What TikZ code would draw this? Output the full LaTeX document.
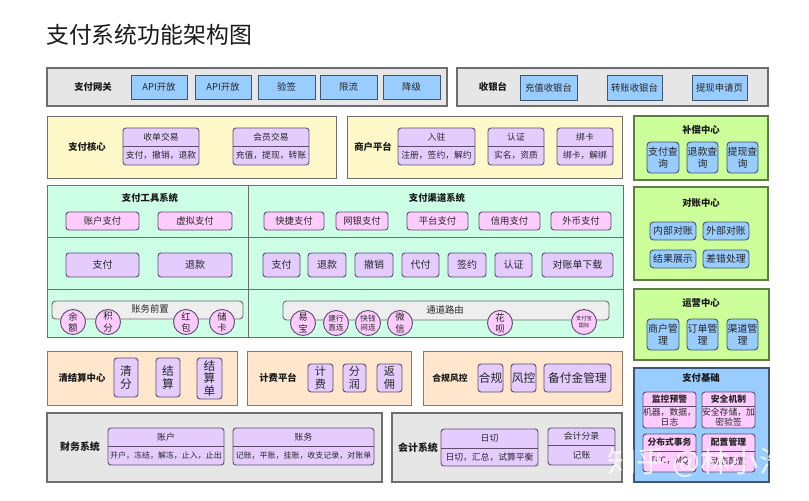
\documentclass[tikz,border=0pt]{standalone}
\usepackage{fontspec}
\setmainfont{Noto Sans CJK SC}

% 颜色
\definecolor{huiDi}{HTML}{E6E6E6}
\definecolor{huiBian}{HTML}{6E6E6E}
\definecolor{tiaoDi}{HTML}{EEEEEE}
\definecolor{lanDi}{HTML}{99CCFF}
\definecolor{lanBian}{HTML}{3D5673}
\definecolor{huangDi}{HTML}{FFF9C9}
\definecolor{ziDi}{HTML}{E5CCFF}
\definecolor{ziBian}{HTML}{5C4D6B}
\definecolor{lvDi}{HTML}{CCFF99}
\definecolor{lvBian}{HTML}{5E7D45}
\definecolor{qingDi}{HTML}{CCFFE6}
\definecolor{fenDi}{HTML}{FFCCFF}
\definecolor{chengDi}{HTML}{FFE6CC}
\definecolor{chengBian}{HTML}{8C7A66}

\tikzset{
  kuangbase/.style={draw, line width=0.8pt, inner sep=0pt, outer sep=0pt, align=center, text=black!85},
  huiqu/.style={kuangbase, fill=huiDi, draw=huiBian, line width=1pt},
  huangqu/.style={kuangbase, fill=huangDi, draw=huiBian},
  lvqu/.style={kuangbase, fill=lvDi, draw=lvBian, line width=1pt},
  qingqu/.style={kuangbase, fill=qingDi, draw=huiBian},
  chengqu/.style={kuangbase, fill=chengDi, draw=chengBian},
  landaqu/.style={kuangbase, fill=lanDi, draw=lanBian, line width=1pt},
  lanxiao/.style={kuangbase, fill=lanDi, draw=lanBian, font=\fontsize{8}{9}\selectfont},
  lanyuan/.style={kuangbase, fill=lanDi, draw=lanBian, rounded corners=3pt, font=\fontsize{8.5}{10}\selectfont},
  zifen/.style={kuangbase, fill=ziDi, draw=ziBian, rounded corners=2.5pt},
  fenkuang/.style={kuangbase, fill=fenDi, draw=ziBian, rounded corners=2.5pt},
  fenxiao/.style={fenkuang, font=\fontsize{8}{9}\selectfont},
  zizhong/.style={zifen, font=\fontsize{8.5}{10}\selectfont},
  zida/.style={zifen, font=\fontsize{10}{11}\selectfont},
  zijiao/.style={zifen, font=\fontsize{9.5}{11}\selectfont},
  zihe/.style={zifen, font=\fontsize{10}{12}\selectfont},
  huitiao/.style={kuangbase, fill=tiaoDi, draw=huiBian, rounded corners=3pt},
  yuan/.style={circle, draw=ziBian, fill=fenDi, line width=0.8pt, minimum size=0.75cm,
    inner sep=0pt, align=center, text=black!85, font=\fontsize{8}{9.5}\selectfont},
  biaoti/.style={inner sep=0pt, text=black!90, font=\bfseries\fontsize{8}{9}\selectfont},
  xiaozi/.style={inner sep=0pt, align=center, text=black!85, font=\fontsize{7.5}{9}\selectfont},
  fenxian/.style={draw=ziBian, line width=0.8pt},
  shuiyin/.style={inner sep=0pt, text=white, opacity=0.8, font=\fontsize{25}{28}\selectfont},
}

% 方框：名字、样式、左上 x y、右下 x y、文字
\newcommand{\kuang}[7]{%
  \node[#2, minimum width={(#5-#3)*0.03cm}, minimum height={(#6-#4)*0.03cm}]
    (#1) at ({(#3+#5)/2},{(#4+#6)/2}) {#7};}

% 上下两格的方框
\newcommand{\liang}[9]{%
  \kuang{#1}{#2}{#3}{#4}{#6}{#7}{}%
  \draw[fenxian] (#3,#5) -- (#6,#5);%
  \node[xiaozi] (#1-s) at ({(#3+#6)/2},{(#4+#5)/2}) {#8};%
  \node[xiaozi] (#1-x) at ({(#3+#6)/2},{(#5+#7)/2}) {#9};}

\begin{document}
\begin{tikzpicture}[x=0.03cm, y=-0.03cm]
    % 背景
    \fill[white] (0,0) rectangle (809,500);
    \useasboundingbox (0,0) rectangle (809,500);

    \node[anchor=west, inner sep=0pt, text=black!90, font=\fontsize{19.5}{22}\selectfont]
      (zongbiaoti) at (46,35) {支付系统功能架构图};

    % 支付网关 / 收银台
    \kuang{zfwg}{huiqu}{47}{68}{447}{106}{}
    \node[biaoti] (zfwg-t) at (93,87) {支付网关};
    \kuang{api1}{lanxiao}{131}{75}{187}{99}{API开放}
    \kuang{api2}{lanxiao}{195}{75}{251}{99}{API开放}
    \kuang{yq}{lanxiao}{258}{75}{315}{99}{验签}
    \kuang{xl}{lanxiao}{320}{75}{377}{99}{限流}
    \kuang{jj}{lanxiao}{383}{75}{440}{99}{降级}

    \kuang{syt}{huiqu}{457}{68}{768}{106}{}
    \node[biaoti] (syt-t) at (493,87) {收银台};
    \kuang{czsyt}{lanxiao}{520}{75}{577}{100}{充值收银台}
    \kuang{zzsyt}{lanxiao}{607}{75}{662}{100}{转账收银台}
    \kuang{txsqy}{lanxiao}{692}{75}{747}{100}{提现申请页}

    % 支付核心 / 商户平台
    \kuang{zfhx}{huangqu}{47}{116}{336}{178}{}
    \node[biaoti] (zfhx-t) at (87,147) {支付核心};
    \liang{sdjy}{zifen}{123}{128}{146}{199}{165}{收单交易}{支付，撤销，退款}
    \liang{hyjy}{zifen}{233}{128}{146}{309}{165}{会员交易}{充值，提现，转账}

    \kuang{shpt}{huangqu}{347}{116}{622}{178}{}
    \node[biaoti] (shpt-t) at (373,147) {商户平台};
    \liang{rz}{zifen}{398}{128}{146}{475}{165}{入驻}{注册，签约，解约}
    \liang{rzh}{zifen}{488}{128}{146}{544}{165}{认证}{实名，资质}
    \liang{bk}{zifen}{557}{128}{146}{613}{165}{绑卡}{绑卡，解绑}

    % 右侧
    \kuang{bczx}{lvqu}{634}{116}{768}{180}{}
    \node[biaoti] (bczx-t) at (701,130) {补偿中心};
    \kuang{zfcx}{lanyuan}{647}{142}{679}{173}{支付查\\询}
    \kuang{tkcx}{lanyuan}{687}{142}{718}{173}{退款查\\询}
    \kuang{txcx}{lanyuan}{727}{142}{758}{173}{提现查\\询}

    \kuang{dzzx}{lvqu}{634}{187}{768}{280}{}
    \node[biaoti] (dzzx-t) at (701,203) {对账中心};
    \kuang{nbdz}{lanyuan}{650}{222}{696}{240}{内部对账}
    \kuang{wbdz}{lanyuan}{703}{222}{749}{240}{外部对账}
    \kuang{jgzs}{lanyuan}{650}{250}{696}{268}{结果展示}
    \kuang{cccl}{lanyuan}{703}{250}{749}{268}{差错处理}

    \kuang{yyzx}{lvqu}{634}{289}{769}{360}{}
    \node[biaoti] (yyzx-t) at (701,303) {运营中心};
    \kuang{shgl}{lanyuan}{647}{319}{679}{350}{商户管\\理}
    \kuang{ddgl}{lanyuan}{687}{319}{718}{350}{订单管\\理}
    \kuang{qdgl}{lanyuan}{727}{319}{758}{350}{渠道管\\理}

    \kuang{zfjc}{landaqu}{634}{368}{769}{482}{}
    \node[biaoti] (zfjc-t) at (701,378) {支付基础};
    \liang{jkyj}{fenkuang}{643}{392}{406}{696}{428}{\textbf{监控预警}}{机器，数据，\\日志}
    \liang{aqjz}{fenkuang}{702}{392}{406}{755}{428}{\textbf{安全机制}}{安全存储，加\\密验签}
    \liang{fbsw}{fenkuang}{643}{434}{451}{696}{472}{\textbf{分布式事务}}{TCC，MQ}
    \liang{pzgl}{fenkuang}{702}{434}{451}{755}{472}{\textbf{配置管理}}{动态配置}

    % 支付工具系统 / 支付渠道系统
    \kuang{zdqy}{qingqu}{47}{185}{623}{337}{}
    \draw[draw=huiBian, line width=0.8pt] (248,185) -- (248,337);
    \draw[draw=huiBian, line width=0.8pt] (47,237) -- (623,237);
    \draw[draw=huiBian, line width=0.8pt] (47,289) -- (623,289);
    \node[biaoti] (gjxt-t) at (150,198) {支付工具系统};
    \node[biaoti] (qdxt-t) at (437,198) {支付渠道系统};

    \kuang{zhzf}{fenxiao}{66}{212}{139}{230}{账户支付}
    \kuang{xnzf}{fenxiao}{158}{212}{232}{230}{虚拟支付}
    \kuang{kjzf}{fenxiao}{264}{212}{324}{230}{快捷支付}
    \kuang{wyzf}{fenxiao}{336}{212}{388}{230}{网银支付}
    \kuang{ptzf}{fenxiao}{407}{212}{468}{230}{平台支付}
    \kuang{xyzf}{fenxiao}{479}{212}{540}{230}{信用支付}
    \kuang{wbzf}{fenxiao}{551}{212}{611}{230}{外币支付}

    \kuang{gjzf}{zizhong}{66}{253}{139}{277}{支付}
    \kuang{gjtk}{zizhong}{158}{253}{232}{277}{退款}
    \kuang{qdzf}{zizhong}{263}{253}{300}{277}{支付}
    \kuang{qdtk}{zizhong}{308}{253}{346}{277}{退款}
    \kuang{qdcx}{zizhong}{355}{253}{393}{277}{撤销}
    \kuang{qddf}{zizhong}{402}{253}{439}{277}{代付}
    \kuang{qdqy}{zizhong}{448}{253}{486}{277}{签约}
    \kuang{qdrz}{zizhong}{495}{253}{532}{277}{认证}
    \kuang{dzdxz}{zizhong}{542}{253}{613}{277}{对账单下载}

    \kuang{zwqz}{huitiao}{52}{301}{243}{319}{}
    \node[xiaozi, font=\fontsize{8}{9}\selectfont] (zwqz-t) at (150,309) {账务前置};
    \node[yuan] (ye) at (73,322) {余\\额};
    \node[yuan] (jf1) at (108,322) {积\\分};
    \node[yuan] (hb) at (186,322) {红\\包};
    \node[yuan] (ck) at (222,322) {储\\卡};

    \kuang{tdly}{huitiao}{283}{301}{609}{320}{}
    \node[xiaozi, font=\fontsize{8}{9}\selectfont] (tdly-t) at (445,310) {通道路由};
    \node[yuan] (yb) at (303,323) {易\\宝};
    \node[yuan, font=\fontsize{6.5}{8}\selectfont] (jhzl) at (336,323) {建行\\直连};
    \node[yuan, font=\fontsize{6.5}{8}\selectfont] (kqjl) at (368,323) {快钱\\间连};
    \node[yuan] (wx) at (400,323) {微\\信};
    \node[yuan] (hbei) at (500,323) {花\\呗};
    \node[yuan, font=\fontsize{4.5}{6}\selectfont] (zfbgj) at (584,322) {支付宝\\国际};

    % 清结算中心 / 计费平台 / 合规风控
    \kuang{qjszx}{chengqu}{47}{351}{237}{405}{}
    \node[biaoti] (qjszx-t) at (82,378) {清结算中心};
    \kuang{qf}{zida}{114}{358}{138}{397}{清\\分}
    \kuang{js}{zida}{156}{358}{180}{397}{结\\算}
    \kuang{jsd}{zida}{197}{358}{222}{399}{结\\算\\单}

    \kuang{jfpt}{chengqu}{247}{351}{411}{405}{}
    \node[biaoti] (jfpt-t) at (278,378) {计费平台};
    \kuang{jf}{zijiao}{308}{364}{333}{392}{计\\费}
    \kuang{fr}{zijiao}{343}{364}{366}{392}{分\\润}
    \kuang{fy}{zijiao}{377}{364}{402}{392}{返\\佣}

    \kuang{hgfk}{chengqu}{423}{351}{622}{405}{}
    \node[biaoti, font=\bfseries\fontsize{7.5}{9}\selectfont] (hgfk-t) at (450,378) {合规风控};
    \kuang{hg}{zihe}{478}{364}{503}{392}{合规}
    \kuang{fk}{zihe}{511}{364}{536}{392}{风控}
    \kuang{bfjgl}{zihe}{544}{364}{611}{392}{备付金管理}

    % 财务系统 / 会计系统
    \kuang{cwxt}{huiqu}{47}{413}{382}{482}{}
    \node[biaoti, font=\bfseries\fontsize{8.5}{10}\selectfont] (cwxt-t) at (80,447) {财务系统};
    \liang{zh}{zifen}{108}{428}{446}{224}{465}{账户}{\fontsize{6.8}{8}\selectfont 开户，冻结，解冻，止入，止出}
    \liang{zw}{zifen}{233}{428}{446}{374}{465}{账务}{\fontsize{6.8}{8}\selectfont 记账，平账，挂账，收支记录，对账单}

    \kuang{kjxt}{huiqu}{392}{413}{622}{482}{}
    \node[biaoti, font=\bfseries\fontsize{8.5}{10}\selectfont] (kjxt-t) at (418,448) {会计系统};
    \liang{rq}{zifen}{441}{429}{448}{538}{466}{日切}{日切，汇总，试算平衡}
    \liang{kjfl}{zifen}{548}{428}{445}{615}{465}{会计分录}{记账}

    % 水印
    \node[shuiyin] (shuiyin) at (698,463) {知乎 @林小浩};

\end{tikzpicture}
\end{document}
